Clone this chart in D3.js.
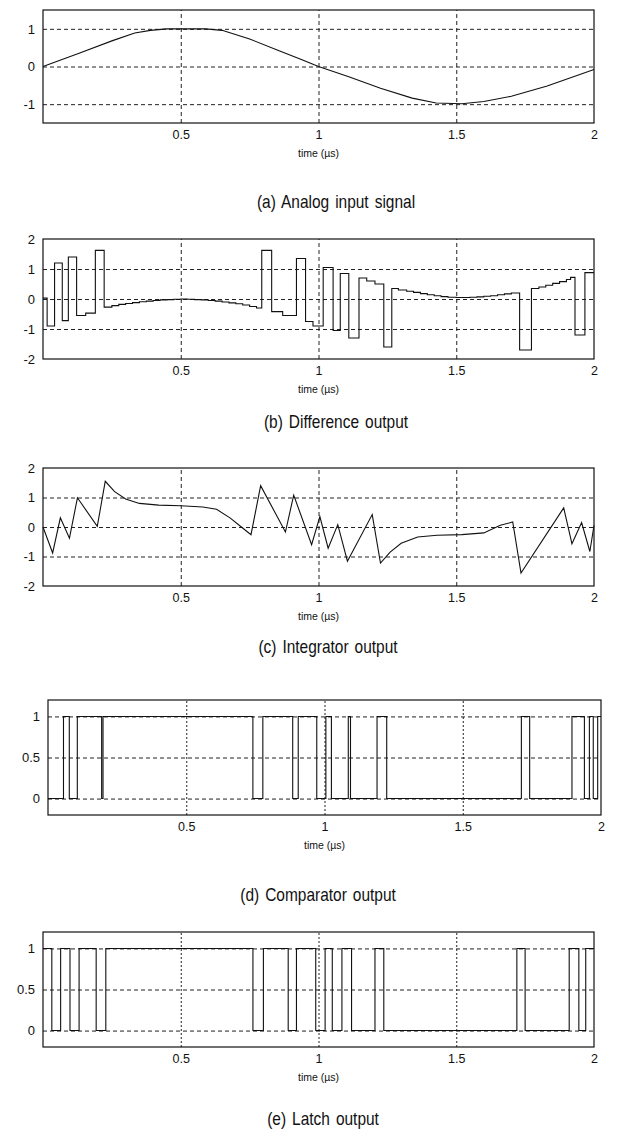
<!DOCTYPE html>
<html>
<head>
<meta charset="utf-8">
<script src="https://cdn.jsdelivr.net/npm/d3@7"></script>
<style>
  body { margin: 0; background: #fff; }
  text { fill: #111; }
</style>
</head>
<body>
<div id="chart"></div>
<script>
// (a) analog input signal
const inputT = [0, 0.131, 0.25, 0.333, 0.39, 0.448, 0.52, 0.59, 0.65, 0.75, 0.85, 0.94, 1.0, 1.11, 1.225, 1.34, 1.427, 1.52, 1.6, 1.7, 1.83, 2.0];
const inputV = [0, 0.35, 0.68, 0.89, 0.96, 1.0, 1.0, 1.0, 0.96, 0.73, 0.44, 0.18, 0, -0.27, -0.58, -0.84, -0.97, -0.99, -0.93, -0.79, -0.52, -0.08];

// (b) difference output, step points [t, value]
const diffSteps = [[0, 0.03], [0.015, -0.9], [0.042, 1.2], [0.07, -0.72], [0.092, 1.4], [0.122, -0.55], [0.155, -0.47],
  [0.19, 1.62], [0.222, -0.27], [0.25, -0.22], [0.275, -0.18], [0.3, -0.15], [0.325, -0.12], [0.35, -0.09], [0.375, -0.07],
  [0.4, -0.05], [0.425, -0.03], [0.45, -0.02], [0.475, -0.01], [0.5, 0], [0.525, -0.01], [0.55, -0.02], [0.575, -0.03],
  [0.6, -0.05], [0.625, -0.07], [0.65, -0.1], [0.675, -0.13], [0.7, -0.16], [0.725, -0.2], [0.75, -0.25], [0.775, -0.3],
  [0.794, 1.62], [0.83, -0.42], [0.87, -0.55], [0.92, 1.35], [0.953, -0.75], [0.98, -0.9], [1.017, 1.05], [1.053, -1.05],
  [1.079, 0.85], [1.11, -1.3], [1.147, 0.7], [1.175, 0.6], [1.205, 0.5], [1.237, -1.6], [1.266, 0.35], [1.29, 0.3],
  [1.32, 0.26], [1.345, 0.22], [1.37, 0.18], [1.395, 0.14], [1.42, 0.11], [1.445, 0.08], [1.47, 0.06], [1.5, 0.05],
  [1.525, 0.05], [1.55, 0.06], [1.575, 0.07], [1.6, 0.09], [1.625, 0.11], [1.65, 0.14], [1.675, 0.17], [1.7, 0.2],
  [1.73, -1.7], [1.773, 0.35], [1.8, 0.4], [1.825, 0.46], [1.85, 0.52], [1.875, 0.58], [1.9, 0.65], [1.915, 0.72],
  [1.931, -1.2], [1.967, 0.88], [2.0, 0.88]];

// (c) integrator output [t, value]
const integPts = [[0, 0], [0.035, -0.88], [0.063, 0.31], [0.096, -0.38], [0.125, 0.99], [0.197, 0.02], [0.226, 1.55],
  [0.26, 1.2], [0.3, 0.95], [0.35, 0.8], [0.42, 0.74], [0.5, 0.72], [0.58, 0.68], [0.63, 0.6], [0.68, 0.3], [0.72, 0.0],
  [0.755, -0.26], [0.79, 1.4], [0.88, -0.17], [0.91, 1.08], [0.975, -0.6], [1.005, 0.35], [1.035, -0.72], [1.07, 0.08],
  [1.105, -1.16], [1.195, 0.42], [1.225, -1.22], [1.26, -0.85], [1.3, -0.55], [1.36, -0.34], [1.43, -0.28], [1.52, -0.26],
  [1.6, -0.2], [1.66, 0.06], [1.705, 0.17], [1.735, -1.56], [1.89, 0.65], [1.92, -0.57], [1.955, 0.15], [1.985, -0.83], [2.0, 0.05]];

// (d) comparator output, step points [t, level]
const compSteps = [[0, 0], [0.056, 1], [0.077, 0], [0.106, 1], [0.194, 0], [0.199, 1], [0.741, 0], [0.777, 1], [0.885, 0],
  [0.905, 1], [0.972, 0], [1.005, 1], [1.025, 0], [1.086, 1], [1.094, 0], [1.19, 1], [1.225, 0], [1.712, 1], [1.742, 0],
  [1.895, 1], [1.94, 0], [1.958, 1], [1.972, 0], [1.988, 1], [2.0, 1]];

// (e) latch output, step points [t, level]
const latchSteps = [[0, 1], [0.032, 0], [0.064, 1], [0.098, 0], [0.131, 1], [0.193, 0], [0.228, 1], [0.762, 0], [0.8, 1],
  [0.89, 0], [0.92, 1], [0.99, 0], [1.024, 1], [1.05, 0], [1.085, 1], [1.12, 0], [1.205, 1], [1.237, 0], [1.72, 1],
  [1.75, 0], [1.91, 1], [1.945, 0], [1.97, 1], [2.0, 1]];

const xTicks = [0.5, 1, 1.5, 2];
const xTickLabels = ["0.5", "1", "1.5", "2"];
const captions = ["(a)  Analog  input  signal", "(b)  Difference  output", "(c)  Integrator  output",
  "(d)  Comparator  output", "(e)  Latch  output"];

const svg = d3.select("#chart").append("svg")
  .attr("width", 621)
  .attr("height", 1136);

const font = "'Liberation Sans', Arial, sans-serif";

const panels = [
  { x0: 43, x1: 594, y0: 10, y1: 123, dom: [-1.5, 1.5], ticks: [-1, 0, 1], grid: [-1, 0, 1], capX: 336, capY: 208,
    data: inputT.map((t, i) => [t, inputV[i]]), step: false },
  { x0: 43, x1: 594, y0: 239, y1: 359, dom: [-2, 2], ticks: [-2, -1, 0, 1, 2], grid: [-1, 0, 1], capX: 336, capY: 428,
    data: diffSteps, step: true },
  { x0: 43, x1: 594, y0: 468, y1: 586, dom: [-2, 2], ticks: [-2, -1, 0, 1, 2], grid: [-1, 0, 1], capX: 328, capY: 653,
    data: integPts, step: false },
  { x0: 48, x1: 601, y0: 700, y1: 815, dom: [-0.2, 1.2], ticks: [0, 0.5, 1], grid: [0, 0.5, 1], capX: 318, capY: 901,
    data: compSteps, step: true },
  { x0: 43, x1: 594, y0: 932, y1: 1047, dom: [-0.2, 1.2], ticks: [0, 0.5, 1], grid: [0, 0.5, 1], capX: 323, capY: 1125,
    data: latchSteps, step: true }
];

panels.forEach((p, i) => {
  const x = d3.scaleLinear().domain([0, 2]).range([p.x0, p.x1]);
  const y = d3.scaleLinear().domain(p.dom).range([p.y1, p.y0]);
  const g = svg.append("g");

  // horizontal grid
  g.append("g")
    .attr("transform", `translate(${p.x0},0)`)
    .call(d3.axisLeft(y).tickValues(p.grid).tickSize(-(p.x1 - p.x0)).tickFormat(""))
    .call(s => s.select(".domain").remove())
    .selectAll("line")
      .attr("stroke", "#222")
      .attr("stroke-dasharray", "4,3");

  // vertical grid
  g.append("g")
    .attr("transform", `translate(0,${p.y1})`)
    .call(d3.axisBottom(x).tickValues([0.5, 1, 1.5]).tickSize(-(p.y1 - p.y0)).tickFormat(""))
    .call(s => s.select(".domain").remove())
    .selectAll("line")
      .attr("stroke", "#222")
      .attr("stroke-dasharray", i < 3 ? "4,3" : "2,2");

  // y tick labels
  g.append("g")
    .attr("transform", `translate(${p.x0},0)`)
    .call(d3.axisLeft(y).tickValues(p.ticks).tickSize(0).tickPadding(8).tickFormat(d => String(d)))
    .call(s => s.select(".domain").remove())
    .selectAll("text")
      .attr("font-family", font)
      .attr("font-size", 13)
      .attr("fill", "#111");

  // x tick labels
  g.append("g")
    .attr("transform", `translate(0,${p.y1})`)
    .call(d3.axisBottom(x).tickValues(xTicks).tickSize(0).tickPadding(7)
      .tickFormat((d, k) => xTickLabels[k]))
    .call(s => s.select(".domain").remove())
    .selectAll("text")
      .attr("font-family", font)
      .attr("font-size", 12.5)
      .attr("fill", "#111");

  g.append("text")
    .attr("x", (p.x0 + p.x1) / 2)
    .attr("y", p.y1 + 34)
    .attr("text-anchor", "middle")
    .attr("font-family", font)
    .attr("font-size", 10.5)
    .text("time (\u00b5s)");

  // signal
  const line = d3.line()
    .x(d => x(d[0]))
    .y(d => y(d[1]))
    .curve(p.step ? d3.curveStepAfter : d3.curveLinear);
  g.append("path")
    .datum(p.data)
    .attr("fill", "none")
    .attr("stroke", "#111")
    .attr("stroke-width", 1.1)
    .attr("d", line);

  // box
  g.append("rect")
    .attr("x", p.x0).attr("y", p.y0)
    .attr("width", p.x1 - p.x0).attr("height", p.y1 - p.y0)
    .attr("fill", "none")
    .attr("stroke", "#111")
    .attr("stroke-width", 1.2);

  // caption, narrow face like the scan
  svg.append("text")
    .attr("transform", `translate(${p.capX},${p.capY}) scale(0.86,1)`)
    .attr("text-anchor", "middle")
    .attr("font-family", font)
    .attr("font-size", 18)
    .style("word-spacing", "2px")
    .text(captions[i]);
});
</script>
</body>
</html>
